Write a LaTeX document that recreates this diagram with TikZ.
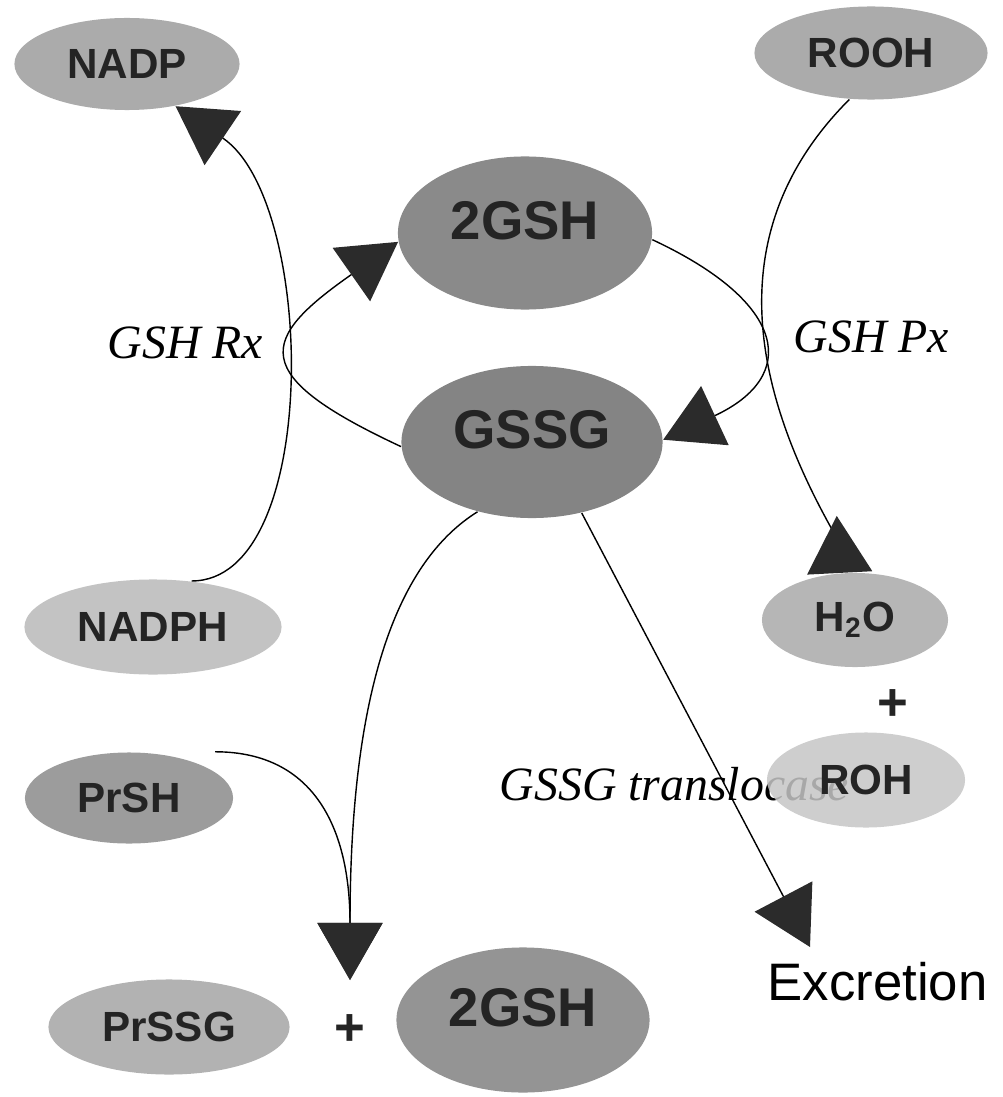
\documentclass[tikz,border=0pt]{standalone}
\usepackage{fontspec}
\setmainfont{Liberation Serif}
\setsansfont{Liberation Sans}
\usepackage{tikz}
\usetikzlibrary{shapes.geometric, arrows.meta}
\definecolor{tipgray}{HTML}{2B2B2B}
\definecolor{inkgray}{HTML}{242424}
\definecolor{gshfill}{HTML}{8A8A8A}
\definecolor{gssgfill}{HTML}{848484}
\definecolor{nadpfill}{HTML}{ABABAB}
\definecolor{nadphfill}{HTML}{C3C3C3}
\definecolor{prshfill}{HTML}{9C9C9C}
\definecolor{h2ofill}{HTML}{B6B6B6}
\definecolor{rohfill}{HTML}{C6C6C6}
\definecolor{prssgfill}{HTML}{B2B2B2}
\definecolor{gshoutfill}{HTML}{949494}
\tikzset{
->, % every connector is directed
>={Triangle[length=5.7mm, width=6.5mm, color=tipgray]}, % the big filled heads of the slide
line width=0.5pt, % thin black connectors
pool/.style={ellipse, inner sep=0pt, text=inkgray, font=\sffamily\bfseries\fontsize{12}{14}\selectfont}, % sets the look of each metabolite
bigpool/.style={pool, text depth=0.25cm, font=\sffamily\bfseries\fontsize{15.5}{18}\selectfont}, % the glutathione pools, text sits high
enzyme/.style={inner sep=0pt, anchor=base west, font=\itshape\fontsize{13.6}{16}\selectfont}, % enzyme names
plus/.style={inner sep=0pt, text=inkgray, font=\sffamily\bfseries\fontsize{15}{18}\selectfont}, % the + between products
backhead/.style={-{Triangle[reversed, length=5.7mm, width=6.5mm, color=tipgray]}}, % head turned against the path
}

\begin{document}
\begin{tikzpicture}[x=0.01cm, y=0.01cm]
    \useasboundingbox (0,0) rectangle (1002,-1097);

    % Glutathione cycle
    \node[bigpool, fill=gshfill, minimum width=2.54cm, minimum height=1.53cm] (gsh) at (525,-233) {2GSH};
    \node[bigpool, fill=gssgfill, minimum width=2.61cm, minimum height=1.52cm] (gssg) at (532,-442) {GSSG};

    % Reductase side
    \node[pool, fill=nadpfill, minimum width=2.25cm, minimum height=0.92cm] (nadp) at (127,-64) {NADP};
    \node[pool, fill=nadphfill, minimum width=2.57cm, minimum height=0.95cm] (nadph) at (153,-627) {NADPH};
    \node[enzyme] (rx) at (107,-358) {GSH Rx};

    % Peroxidase side
    \node[pool, fill=nadpfill, minimum width=2.33cm, minimum height=0.93cm] (rooh) at (871,-53) {ROOH};
    \node[pool, fill=h2ofill, minimum width=1.86cm, minimum height=0.94cm] (h2o) at (855,-620) {H\textsubscript{2}O};
    \node[plus] (plusr) at (893,-705) {+};
    \node[enzyme] (px) at (793,-352) {GSH Px};
    \node[enzyme] (tl) at (499,-800) {GSSG translocase};
    \node[pool, fill=rohfill, fill opacity=0.85, text opacity=1, minimum width=1.98cm, minimum height=0.95cm] (roh) at (866,-780) {ROH};
    \coordinate (pxbend) at (838,-540);

    % Protein thiols and export
    \node[pool, fill=prshfill, minimum width=2.08cm, minimum height=0.91cm] (prsh) at (129,-798) {PrSH};
    \node[pool, fill=prssgfill, minimum width=2.41cm, minimum height=0.95cm] (prssg) at (169,-1027) {PrSSG};
    \node[plus] (plusp) at (350,-1030) {+};
    \node[bigpool, fill=gshoutfill, minimum width=2.53cm, minimum height=1.45cm] (gshout) at (523,-1020) {2GSH};
    \node[inner sep=0pt, anchor=base west, font=\sffamily\fontsize{15}{18}\selectfont] (excr) at (767,-1000) {Excretion};
    \coordinate (merge) at (350,-980);
    \coordinate (exit) at (810,-947);

    \draw (nadph.50) to[out=0, in=-34, out distance=1.3cm, in distance=1.7cm] (nadp.-41);
    \draw (gssg.182) to[out=155, in=215, distance=1.7cm] (gsh.184);
    \draw (gsh.-3) to[out=-25, in=25, distance=1.5cm] (gssg.1);
    \draw[backhead] (rooh.-115) to[out=225, in=120, out distance=2cm, in distance=1.5cm] (pxbend) -- (h2o.108);
    \draw ([xshift=0.86cm]prsh.north) to[out=0, in=90, out distance=1cm, in distance=1.5cm] (merge);
    \draw (gssg.-128) to[out=212, in=90, out distance=0.9cm, in distance=3cm] (merge);
    \draw (gssg.-55) -- (exit);
\end{tikzpicture}
\end{document}
